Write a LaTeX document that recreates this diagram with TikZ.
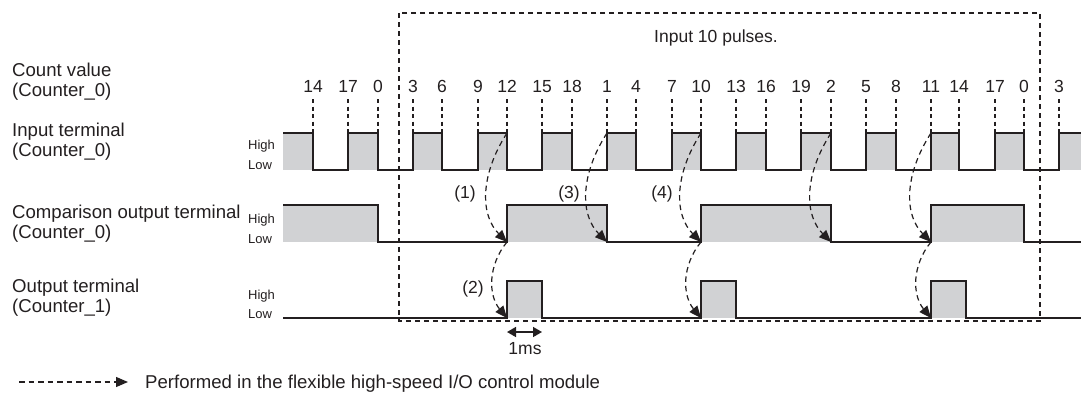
\documentclass[tikz,border=0pt]{standalone}
\usepackage{fontspec}
\setmainfont{Liberation Sans}
\usetikzlibrary{arrows.meta,calc}
\definecolor{ink}{HTML}{231F20}
\definecolor{band}{HTML}{D1D2D4}
\tikzset{
  wave/.style={draw=ink, line width=1.5pt, line join=miter},
  bandfill/.style={fill=band, draw=none},
  tick/.style={draw=ink, line width=1.2pt, dash pattern=on 4pt off 3.5pt},
  boxline/.style={draw=ink, line width=1.2pt, dash pattern=on 5pt off 4pt},
  flow/.style={draw=ink, line width=1.2pt, dash pattern=on 5.5pt off 4pt, -{Triangle[length=12pt,width=10pt]}},
  rowlabel/.style={anchor=base west, inner sep=0pt, font=\fontsize{18.6}{20}\selectfont, text=ink},
  levlabel/.style={anchor=base west, inner sep=0pt, font=\fontsize{13}{15}\selectfont, text=ink},
  countlabel/.style={anchor=base, inner sep=0pt, font=\fontsize{17.5}{19}\selectfont, text=ink},
  steplabel/.style={anchor=center, inner sep=0pt, font=\fontsize{17.5}{19}\selectfont, text=ink},
}
\begin{document}
\begin{tikzpicture}[x=1pt,y=-1pt]
\useasboundingbox (0,0) rectangle (1081,394);

% ---- left labels
\node[rowlabel] (cv1) at (12,76) {Count value};
\node[rowlabel] (cv2) at (12,96) {(Counter\_0)};
\node[rowlabel] (it1) at (12,136) {Input terminal};
\node[rowlabel] (it2) at (12,156) {(Counter\_0)};
\node[rowlabel] (co1) at (12,218) {Comparison output terminal};
\node[rowlabel] (co2) at (12,238) {(Counter\_0)};
\node[rowlabel] (ot1) at (12,292) {Output terminal};
\node[rowlabel] (ot2) at (12,312) {(Counter\_1)};

\node[levlabel] (ih) at (248,149.5) {High};
\node[levlabel] (il) at (248,169) {Low};
\node[levlabel] (ch) at (248,223) {High};
\node[levlabel] (cl) at (248,243) {Low};
\node[levlabel] (oh) at (248,299) {High};
\node[levlabel] (ol) at (248,318) {Low};

% ---- gray bands
\foreach \a/\b in {283/313,348/378,413/442,478/507,542/572,607/636,672/701,736/766,801/831,866/896,931/959,995/1024,1059/1081}
  \path[bandfill] (\a,133) rectangle (\b,170);
\foreach \a/\b in {283/378,507/607,701/831,931/1024}
  \path[bandfill] (\a,205) rectangle (\b,242);
\foreach \a/\b in {507/542,701/736,931/966}
  \path[bandfill] (\a,281) rectangle (\b,318);

% ---- waveforms
\draw[wave] (283,133) -| (313,170) -| (348,133) -| (378,170) -| (413,133) -| (442,170)
  -| (478,133) -| (507,170) -| (542,133) -| (572,170) -| (607,133) -| (636,170)
  -| (672,133) -| (701,170) -| (736,133) -| (766,170) -| (801,133) -| (831,170)
  -| (866,133) -| (896,170) -| (931,133) -| (959,170) -| (995,133) -| (1024,170)
  -| (1059,133) -- (1081,133);
\draw[wave] (283,205) -| (378,242) -| (507,205) -| (607,242) -| (701,205) -| (831,242)
  -| (931,205) -| (1024,242) -- (1081,242);
\draw[wave] (283,318) -| (507,281) -| (542,318) -| (701,281) -| (736,318) -| (931,281)
  -| (966,318) -- (1081,318);

% ---- count values and ticks
\foreach \x/\v [count=\i] in {313/14,348/17,378/0,413/3,442/6,478/9,507/12,542/15,572/18,607/1,636/4,672/7,701/10,736/13,766/16,801/19,831/2,866/5,896/8,931/11,959/14,995/17,1024/0,1059/3}{
  \node[countlabel] (cnt\i) at (\x,92) {\v};
  \coordinate (tk\i) at (\x,99);
  \coordinate (tb\i) at (\x,133);
  \draw[tick] (tk\i) -- (tb\i);
}

% ---- dashed frame
\coordinate (fr1) at (399,13);
\coordinate (fr2) at (1040,321);
\draw[boxline] (fr1) rectangle (fr2);
\node[anchor=base, inner sep=0pt, font=\fontsize{17.5}{19}\selectfont, text=ink] (pulses) at (716,42) {Input 10 pulses.};

% ---- edge points
\foreach \x in {507,607,701,831,931}{
  \coordinate (in\x) at (\x,133);
  \coordinate (cm\x) at (\x,242);
}
\foreach \x in {507,701,931}
  \coordinate (ou\x) at (\x,318);

% ---- curved flow arrows
\foreach \x in {507,607,701,831,931}
  \draw[flow] (in\x) .. controls ($(in\x)+(-27,42)$) and ($(cm\x)+(-27,-27)$) .. (cm\x);
\foreach \x in {507,701,931}
  \draw[flow] (cm\x) .. controls ($(cm\x)+(-19,23)$) and ($(ou\x)+(-19,-23)$) .. (ou\x);

\node[steplabel] (s1) at (465,194) {(1)};
\node[steplabel] (s3) at (569,194) {(3)};
\node[steplabel] (s4) at (662,194) {(4)};
\node[steplabel] (s2) at (473,289) {(2)};

% ---- 1 ms
\coordinate (msA) at (507,332);
\coordinate (msB) at (542,332);
\draw[draw=ink, line width=1.5pt, {Triangle[length=9pt,width=10pt]}-{Triangle[length=9pt,width=10pt]}] (msA) -- (msB);
\node[anchor=base, inner sep=0pt, font=\fontsize{17.5}{19}\selectfont, text=ink] (ms) at (525,354) {1ms};

% ---- legend
\coordinate (legA) at (19,382);
\coordinate (legB) at (128,382);
\draw[flow] (legA) -- (legB);
\node[rowlabel] (legT) at (145,388) {Performed in the flexible high-speed I/O control module};
\end{tikzpicture}
\end{document}
